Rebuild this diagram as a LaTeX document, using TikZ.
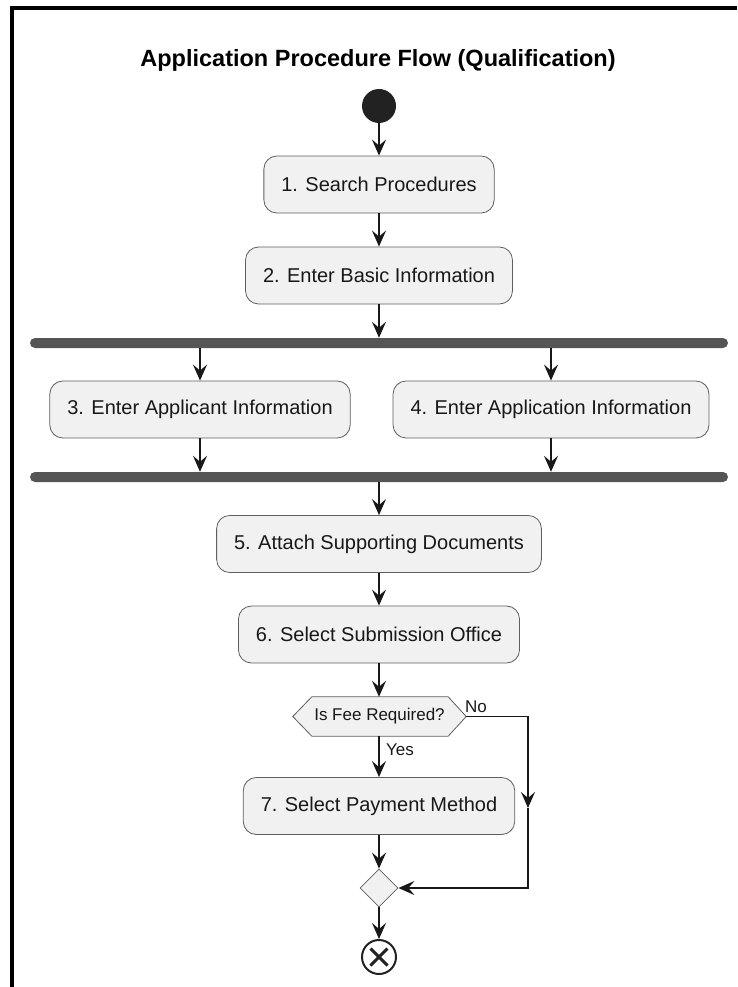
\documentclass[tikz,border=0pt]{standalone}
\usepackage{fontspec}
\setmainfont{Liberation Sans}
\usetikzlibrary{arrows.meta,shapes.geometric}
\definecolor{ln}{HTML}{181818}
\definecolor{bx}{HTML}{F1F1F1}
\definecolor{barc}{HTML}{555555}
\definecolor{bd}{HTML}{5E5E5E}
\definecolor{dot}{HTML}{222222}
\tikzset{
  stepbox/.style={draw=bd, line width=0.8pt, fill=bx, rounded corners=13pt,
    inner xsep=17.5pt, minimum height=57pt, font=\fontsize{20}{24}\selectfont, text=ln},
  forkbar/.style={fill=barc, draw=none, rounded corners=5pt, minimum width=698pt,
    minimum height=10pt, inner sep=0pt},
  arr/.style={draw=ln, line width=1.5pt, -{Stealth[length=16pt,width=14pt,inset=6pt]}},
  lbl/.style={font=\fontsize{17}{20}\selectfont, text=ln, inner sep=0pt},
}
\begin{document}
\begin{tikzpicture}[x=1pt,y=-1pt]
\useasboundingbox (0,0) rectangle (737,987);
% frame
\draw[line width=4pt, black] (11.5,987) -- (11.5,8) -- (737,8);
% title
\node[anchor=base, font=\fontsize{23.5}{28}\selectfont\bfseries, text=black, inner sep=0pt] (title) at (378,67) {Application Procedure Flow (Qualification)};
% nodes
\node[circle, fill=dot, draw=none, minimum size=34pt, inner sep=0pt] (start) at (379,106) {};
\node[stepbox] (b1) at (379,184.5) {1. Search Procedures};
\node[stepbox] (b2) at (379,275.5) {2. Enter Basic Information};
\node[forkbar] (f1) at (379,343) {};
\node[stepbox] (b3) at (200,409.5) {3. Enter Applicant Information};
\node[stepbox] (b4) at (551,409.5) {4. Enter Application Information};
\node[forkbar] (f2) at (379,477) {};
\node[stepbox] (b5) at (379,544) {5. Attach Supporting Documents};
\node[stepbox] (b6) at (379,634.5) {6. Select Submission Office};
\node[minimum width=173pt, minimum height=39pt, inner sep=0pt] (hex) at (379.5,716.5) {};
\draw[draw=bd, line width=0.8pt, fill=bx]
  (hex.west) -- ([xshift=19pt]hex.north west) -- ([xshift=-18pt]hex.north east) -- (hex.east)
  -- ([xshift=-18pt]hex.south east) -- ([xshift=19pt]hex.south west) -- cycle;
\node[lbl] (hext) at (hex.center) {Is Fee Required?};
\node[stepbox] (b7) at (379,806) {7. Select Payment Method};
\node[diamond, draw=bd, line width=0.8pt, fill=bx, minimum width=38pt, minimum height=38pt, inner sep=0pt] (dia) at (379,888) {};
\node[circle, draw=dot, fill=white, line width=2pt, minimum size=34pt, inner sep=0pt] (end) at (379,957) {};
\draw[draw=dot, line width=3pt] ([shift={(-8.5,-8.5)}]end.center) -- ([shift={(8.5,8.5)}]end.center);
\draw[draw=dot, line width=3pt] ([shift={(-8.5,8.5)}]end.center) -- ([shift={(8.5,-8.5)}]end.center);
% labels
\node[lbl] (no) at (476,707) {No};
\node[lbl, anchor=west] (yes) at (386,750) {Yes};
% coordinates for the No branch
\coordinate (n1) at (528,716.5);
\coordinate (n2) at (528,808);
\coordinate (n3) at (528,888);
% connectors
\draw[arr] (start) -- (b1);
\draw[arr] (b1) -- (b2);
\draw[arr] (b2.south) -- (b2.south |- f1.north);
\draw[arr] (b3.north |- f1.south) -- (b3.north);
\draw[arr] (b4.north |- f1.south) -- (b4.north);
\draw[arr] (b3.south) -- (b3.south |- f2.north);
\draw[arr] (b4.south) -- (b4.south |- f2.north);
\draw[arr] (b5.north |- f2.south) -- (b5.north);
\draw[arr] (b5) -- (b6);
\draw[arr] (b6.south) -- (b6.south |- hex.north);
\draw[arr] (b6.south |- hex.south) -- (b7.north);
\draw[arr] (hex.east) -- (n1) -- (n2);
\draw[arr] (n2) -- (n3) -- (dia.east);
\draw[arr] (b7.south) -- (dia.north);
\draw[arr] (dia.south) -- (end.north);
\end{tikzpicture}
\end{document}
